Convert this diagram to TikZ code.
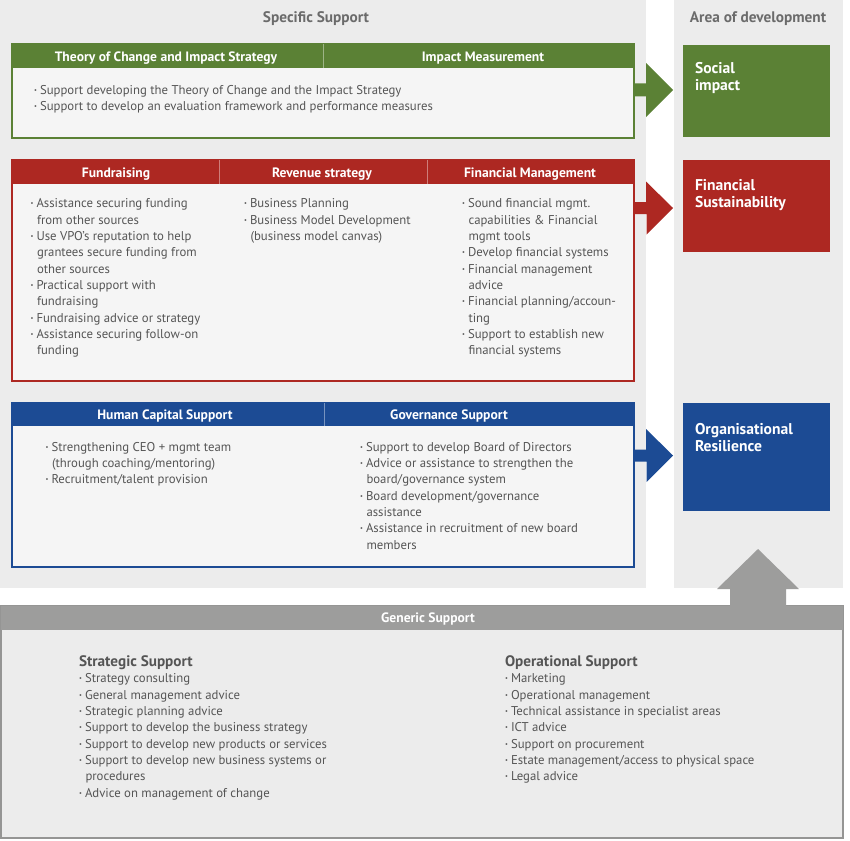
\documentclass[tikz,border=0pt]{standalone}
\usepackage{fontspec}
\setmainfont{PT Sans}
\usetikzlibrary{calc}
\definecolor{gr}{HTML}{5B8135}
\definecolor{rd}{HTML}{AD2822}
\definecolor{bl}{HTML}{1C4B94}
\definecolor{gy}{HTML}{9D9D9C}
\definecolor{panel}{HTML}{ECECEC}
\definecolor{boxbg}{HTML}{F5F5F5}
\definecolor{txtc}{HTML}{555555}
\definecolor{ttlc}{HTML}{6B6B6B}
\newcommand{\bu}{\makebox[6pt][l]{\raisebox{0.32ex}{\scalebox{0.5}{\textbullet}}}}
\newcommand{\ind}{\hspace*{6.5pt}}
\newcommand{\tp}{\rule{0pt}{9pt}}
\newcommand{\subttlfont}{\fontsize{15.2}{17}\selectfont\bfseries}
\tikzset{
  every node/.style={inner sep=0pt, outer sep=0pt},
  panelbox/.style={fill=panel, anchor=north west},
  boxbody/.style={fill=boxbg, line width=1.6pt, anchor=north west},
  hdr/.style={anchor=north west},
  hdrtxt/.style={text=white, font=\fontsize{13.6}{15}\selectfont\bfseries, anchor=base},
  txt/.style={text=txtc, font=\fontsize{12.75}{16.35}\selectfont, align=left, anchor=north west},
  areatxt/.style={text=white, font=\fontsize{15.6}{17.3}\selectfont\bfseries, align=left, anchor=north west},
  ttl/.style={text=ttlc, font=\fontsize{15.3}{17}\selectfont\bfseries, anchor=base},
  areabox/.style={anchor=north west},
}
\begin{document}
\begin{tikzpicture}[x=1pt,y=-1pt]
\useasboundingbox (0,0) rectangle (850,840);
\fill[white] (0,0) rectangle (850,840);
% panels
\node[panelbox, minimum width=646pt, minimum height=588pt] (lp) at (0,0) {};
\node[panelbox, minimum width=169pt, minimum height=588pt] (rp) at (674,0) {};
\node[ttl] (t1) at (316,22.7) {Specific Support};
\node[ttl] (t2) at (758,22.7) {Area of development};

% ---------- green ----------
\node[boxbody, draw=gr, minimum width=622pt, minimum height=94pt] (gbox) at (12,44) {};
\node[hdr, fill=gr, minimum width=622pt, minimum height=24pt] (ghdr) at (12,44) {};
\draw[gr!60!white, line width=0.8pt] (323,44) -- (323,68);
\node[hdrtxt] (gh1) at (166,61.5) {Theory of Change and Impact Strategy};
\node[hdrtxt] (gh2) at (483,61.5) {Impact Measurement};
\node[txt] (gt) at (34,85) {\tp\bu Support developing the Theory of Change and the Impact Strategy\\
\bu Support to develop an evaluation framework and performance measures};

% ---------- red ----------
\node[boxbody, draw=rd, minimum width=622pt, minimum height=221pt] (rbox) at (12,160) {};
\node[hdr, fill=rd, minimum width=622pt, minimum height=24pt] (rhdr) at (12,160) {};
\draw[rd!60!white, line width=0.8pt] (219,160) -- (219,184);
\draw[rd!60!white, line width=0.8pt] (427,160) -- (427,184);
\node[hdrtxt] (rh1) at (116,177.5) {Fundraising};
\node[hdrtxt] (rh2) at (322,177.5) {Revenue strategy};
\node[hdrtxt] (rh3) at (530,177.5) {Financial Management};
\node[txt] (rt1) at (30.5,198.7) {\tp\bu Assistance securing funding\\
\ind from other sources\\
\bu Use VPO's reputation to help\\
\ind grantees secure funding from\\
\ind other sources\\
\bu Practical support with\\
\ind fundraising\\
\bu Fundraising advice or strategy\\
\bu Assistance securing follow-on\\
\ind funding};
\node[txt] (rt2) at (244,198.7) {\tp\bu Business Planning\\
\bu Business Model Development\\
\ind (business model canvas)};
\node[txt] (rt3) at (462,198.7) {\tp\bu Sound financial mgmt.\\
\ind capabilities \& Financial\\
\ind mgmt tools\\
\bu Develop financial systems\\
\bu Financial management\\
\ind advice\\
\bu Financial planning/accoun-\\
\ind ting\\
\bu Support to establish new\\
\ind financial systems};

% ---------- blue ----------
\node[boxbody, draw=bl, minimum width=622pt, minimum height=164pt] (bbox) at (12,403) {};
\node[hdr, fill=bl, minimum width=622pt, minimum height=23pt] (bhdr) at (12,403) {};
\draw[bl!60!white, line width=0.8pt] (324,403) -- (324,426);
\node[hdrtxt] (bh1) at (165,419.8) {Human Capital Support};
\node[hdrtxt] (bh2) at (449,419.8) {Governance Support};
\node[txt] (bt1) at (45.5,442) {\tp\bu Strengthening CEO + mgmt team\\
\ind (through coaching/mentoring)\\
\bu Recruitment/talent provision};
\node[txt] (bt2) at (360,442) {\tp\bu Support to develop Board of Directors\\
\bu Advice or assistance to strengthen the\\
\ind board/governance system\\
\bu Board development/governance\\
\ind assistance\\
\bu Assistance in recruitment of new board\\
\ind members};

% ---------- area boxes ----------
\node[areabox, fill=gr, minimum width=147pt, minimum height=92pt] (soc) at (683,45) {};
\node[areatxt] (soct) at (695,60.5) {\rule{0pt}{12.8pt}Social\\impact};
\node[areabox, fill=rd, minimum width=147pt, minimum height=92pt] (fin) at (683,160) {};
\node[areatxt] (fint) at (695,177.2) {\rule{0pt}{12.8pt}Financial\\Sustainability};
\node[areabox, fill=bl, minimum width=147pt, minimum height=108pt] (org) at (683,403) {};
\node[areatxt] (orgt) at (695,421.2) {\rule{0pt}{12.8pt}Organisational\\Resilience};

% ---------- arrows ----------
\coordinate (gtip) at (673,90);
\fill[gr] (gbox.east |- gtip) ++(0,-6.5) -- ++(12,0) -- ++(0,-20.5) -- (gtip) -- ++(-27,27) -- ++(0,-20.5) -- ++(-12,0) -- cycle;
\coordinate (rtip) at (673,208);
\fill[rd] (rbox.east |- rtip) ++(0,-6) -- ++(12,0) -- ++(0,-20.5) -- (rtip) -- ++(-26.5,26.5) -- ++(0,-20.5) -- ++(-12,0) -- cycle;
\coordinate (btip) at (673,455.5);
\fill[bl] (bbox.east |- btip) ++(0,-6) -- ++(12,0) -- ++(0,-20.5) -- (btip) -- ++(-26.5,26.5) -- ++(0,-20.5) -- ++(-12,0) -- cycle;

% ---------- generic ----------
\node[anchor=north west, fill=panel, draw=gy!95!black, line width=1.5pt, minimum width=842pt, minimum height=232pt] (gen) at (1,606) {};
\node[anchor=north west, fill=gy, minimum width=842pt, minimum height=24pt] (genh) at (1,606) {};
\coordinate (utip) at (758,549);
\fill[gy] (genh.north -| utip) ++(-28,0.5) -- ++(0,-17.5) -- ++(-13,0) -- (utip) -- ++(41,40) -- ++(-13,0) -- ++(0,17.5) -- cycle;
\node[hdrtxt] (genht) at (428,622.5) {Generic Support};
\node[txt] (gs1) at (79,655.5) {\rule{0pt}{10pt}{\subttlfont Strategic Support}\\
\bu Strategy consulting\\
\bu General management advice\\
\bu Strategic planning advice\\
\bu Support to develop the business strategy\\
\bu Support to develop new products or services\\
\bu Support to develop new business systems or\\
\ind procedures\\
\bu Advice on management of change};
\node[txt] (gs2) at (505,655.5) {\rule{0pt}{10pt}{\subttlfont Operational Support}\\
\bu Marketing\\
\bu Operational management\\
\bu Technical assistance in specialist areas\\
\bu ICT advice\\
\bu Support on procurement\\
\bu Estate management/access to physical space\\
\bu Legal advice};
\end{tikzpicture}
\end{document}
